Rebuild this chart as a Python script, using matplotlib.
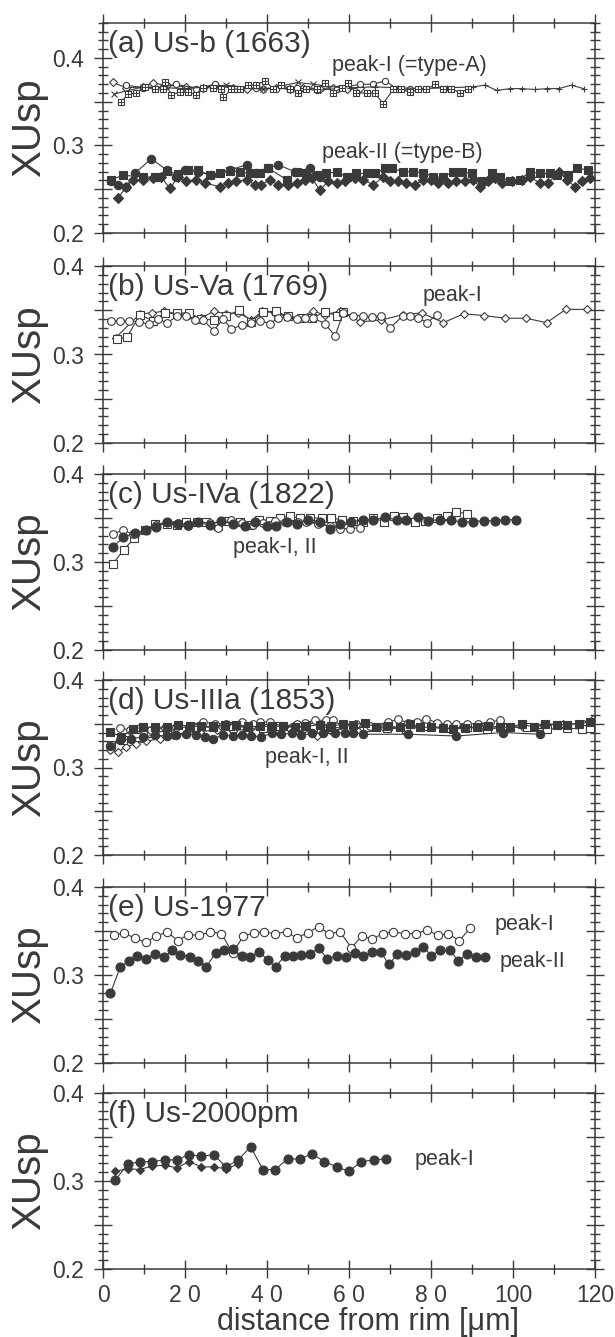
import matplotlib.pyplot as plt
from matplotlib.ticker import MultipleLocator, FuncFormatter, FixedLocator, FixedFormatter

plt.rcParams['font.family'] = ['Liberation Sans', 'DejaVu Sans']
INK = '#3a3a3a'

# ---------------- data (distance um, XUsp) ----------------
# (a) Us-b (1663)
A_SQ_X = [4.5, 6.1, 8.1, 10.2, 12.6, 14.6, 15.1, 16.7, 18.7, 20.7, 22.8, 24.4, 26.9, 28.9, 29.3,
          31.3, 33.4, 35.4, 37.4, 39.5, 41.5, 43.5, 45.6, 47.6, 49.6, 52.1, 54.1, 56.1, 58.2, 59.8,
          61.8, 64.3, 66.3, 68.3, 70.8, 72.8, 74.9, 76.9, 78.9, 81.0, 83.0, 85.0, 87.1, 89.1]
A_SQ_Y = [0.350, 0.359, 0.360, 0.367, 0.364, 0.365, 0.372, 0.358, 0.361, 0.361, 0.358, 0.366, 0.366, 0.364, 0.355,
          0.364, 0.365, 0.369, 0.369, 0.374, 0.365, 0.369, 0.365, 0.360, 0.364, 0.365, 0.371, 0.360, 0.366, 0.371,
          0.360, 0.360, 0.360, 0.348, 0.364, 0.364, 0.361, 0.364, 0.364, 0.370, 0.364, 0.365, 0.360, 0.365]
A_DM_X = [2.4, 5.7, 9.8, 12.2, 15.5, 20.3, 24.4, 27.3, 31.7, 35.0, 39.1, 42.3, 45.6, 48.8, 52.9, 56.1, 59.4, 62.7]
A_DM_Y = [0.372, 0.366, 0.367, 0.371, 0.369, 0.367, 0.366, 0.369, 0.366, 0.365, 0.364, 0.366, 0.364, 0.366,
          0.365, 0.366, 0.364, 0.366]
A_CI_X = [5.7, 9.8, 14.6, 17.9, 22.8, 27.3, 32.5, 37.4, 42.3, 47.2, 52.1, 57.0, 62.7, 65.9, 68.8, 71.6, 74.9]
A_CI_Y = [0.369, 0.366, 0.367, 0.370, 0.365, 0.370, 0.364, 0.366, 0.365, 0.366, 0.363, 0.365, 0.370, 0.370,
          0.374, 0.365, 0.364]
A_XX_X = [2.8, 9.8, 20.3, 30.1, 39.1, 47.6, 51.3, 58.0]
A_XX_Y = [0.359, 0.367, 0.365, 0.369, 0.364, 0.372, 0.370, 0.366]
A_PL_X = [60.2, 66.3, 72.0, 78.0, 84.0, 90.3, 93.2, 96.0, 99.3, 102.1, 105.4, 108.2, 111.1, 114.3, 117.2]
A_PL_Y = [0.366, 0.367, 0.366, 0.365, 0.366, 0.367, 0.369, 0.363, 0.365, 0.365, 0.364, 0.365, 0.365, 0.369, 0.365]
A_FS_X = [2.0, 4.9, 9.8, 12.6, 15.5, 18.3, 20.7, 23.2, 26.0, 28.5, 30.9, 33.4, 35.8, 38.2, 40.3, 44.8,
          47.2, 49.6, 52.1, 54.5, 57.0, 59.4, 61.8, 64.3, 66.3, 68.8, 70.4, 73.2, 75.7, 78.1, 80.6, 83.0,
          85.4, 87.5, 89.9, 92.4, 94.8, 96.8, 99.3, 101.7, 104.1, 106.6, 109.0, 110.7, 113.5, 115.5, 118.4]
A_FS_Y = [0.261, 0.266, 0.264, 0.264, 0.271, 0.267, 0.272, 0.272, 0.266, 0.268, 0.271, 0.270, 0.268, 0.268,
          0.274, 0.261, 0.270, 0.268, 0.266, 0.268, 0.270, 0.264, 0.268, 0.268, 0.268, 0.274, 0.274, 0.270,
          0.270, 0.269, 0.264, 0.264, 0.270, 0.270, 0.268, 0.259, 0.268, 0.264, 0.259, 0.261, 0.270, 0.268,
          0.268, 0.266, 0.266, 0.274, 0.272]
A_FD_X = [3.7, 5.7, 7.3, 9.8, 12.2, 14.2, 16.3, 18.3, 20.3, 22.8, 24.8, 28.5, 30.5, 32.5, 35.0, 37.0,
          38.6, 40.7, 42.7, 45.2, 47.2, 49.2, 50.9, 52.9, 54.9, 57.0, 59.0, 61.4, 63.5, 65.9, 68.3, 70.0,
          72.0, 74.0, 76.1, 78.1, 80.1, 81.8, 84.2, 86.2, 88.3, 90.3, 91.9, 94.0, 95.6, 97.2, 99.7, 102.1,
          104.1, 106.6, 108.6, 111.1, 113.1, 115.1, 116.8, 118.8]
A_FD_Y = [0.240, 0.253, 0.261, 0.261, 0.263, 0.264, 0.251, 0.264, 0.259, 0.261, 0.257, 0.253, 0.257, 0.259,
          0.261, 0.255, 0.255, 0.261, 0.255, 0.255, 0.257, 0.261, 0.263, 0.249, 0.259, 0.257, 0.259, 0.263,
          0.261, 0.255, 0.264, 0.259, 0.259, 0.257, 0.255, 0.261, 0.261, 0.257, 0.257, 0.259, 0.259, 0.261,
          0.253, 0.259, 0.263, 0.257, 0.259, 0.261, 0.264, 0.257, 0.257, 0.270, 0.261, 0.253, 0.259, 0.263]
A_FC_X = [2.0, 3.7, 5.7, 7.7, 11.8, 15.5, 17.9, 19.9, 23.2, 26.4, 30.9, 35.0, 37.4, 40.3, 42.7, 46.8, 50.4, 52.9]
A_FC_Y = [0.259, 0.255, 0.253, 0.268, 0.285, 0.272, 0.264, 0.272, 0.270, 0.266, 0.272, 0.278, 0.268, 0.274,
          0.278, 0.270, 0.274, 0.264]

# (b) Us-Va (1769)
B_CI_X = [2.0, 4.1, 6.3, 8.8, 11.2, 13.4, 15.6, 18.1, 20.3, 22.4, 24.4, 27.0, 29.3, 31.3, 33.8, 36.2, 38.4,
          40.7, 42.7, 44.8, 47.2, 49.2, 51.3, 54.1, 56.6, 58.6, 61.0, 63.3, 65.5, 67.7, 70.0, 73.2, 74.9,
          76.9, 79.1, 81.4]
B_CI_Y = [0.338, 0.338, 0.338, 0.337, 0.334, 0.340, 0.336, 0.343, 0.344, 0.339, 0.339, 0.327, 0.340, 0.329,
          0.333, 0.336, 0.338, 0.335, 0.341, 0.342, 0.340, 0.341, 0.341, 0.335, 0.321, 0.347, 0.344, 0.344,
          0.342, 0.344, 0.330, 0.344, 0.344, 0.341, 0.336, 0.345]
B_DM_X = [3.1, 9.0, 12.0, 14.8, 18.1, 21.0, 24.0, 27.0, 29.9, 33.0, 36.2, 38.9, 41.9, 44.9, 48.0, 51.1,
          54.1, 57.8, 62.8, 67.9, 73.1, 77.7, 83.0, 88.0, 92.9, 98.0, 103.1, 108.2, 112.9, 118.0]
B_DM_Y = [0.319, 0.346, 0.347, 0.349, 0.345, 0.345, 0.341, 0.349, 0.346, 0.347, 0.339, 0.349, 0.347, 0.343,
          0.341, 0.349, 0.345, 0.349, 0.337, 0.339, 0.345, 0.347, 0.336, 0.346, 0.344, 0.341, 0.341, 0.336,
          0.351, 0.351]
B_SQ_X = [3.3, 5.9, 9.0, 12.2, 15.1, 18.1, 21.0, 24.0, 27.0, 29.9, 33.2, 36.2, 39.1, 42.3, 45.0, 48.2,
          50.9, 54.1, 57.1, 58.6]
B_SQ_Y = [0.317, 0.320, 0.345, 0.338, 0.347, 0.347, 0.347, 0.340, 0.339, 0.343, 0.350, 0.337, 0.348, 0.349,
          0.343, 0.341, 0.341, 0.348, 0.344, 0.348]

# (c) Us-IVa (1822)
C_FC_X = [2.4, 4.9, 7.7, 10.4, 13.0, 15.6, 18.3, 20.7, 23.2, 26.0, 28.9, 31.7, 34.6, 37.0, 39.9, 42.3,
          44.8, 47.2, 50.0, 52.9, 55.3, 57.8, 60.6, 63.5, 65.9, 68.8, 71.6, 74.0, 76.9, 79.3, 82.2, 85.0,
          87.5, 90.3, 92.9, 95.6, 98.0, 100.7]
C_FC_Y = [0.317, 0.328, 0.333, 0.336, 0.340, 0.345, 0.343, 0.342, 0.345, 0.342, 0.347, 0.343, 0.341, 0.345,
          0.341, 0.341, 0.346, 0.343, 0.348, 0.346, 0.338, 0.343, 0.346, 0.348, 0.348, 0.351, 0.348, 0.348,
          0.351, 0.347, 0.348, 0.348, 0.345, 0.346, 0.347, 0.347, 0.348, 0.348]
C_CI_X = [2.4, 4.9, 7.3, 10.2, 13.0, 15.6, 18.3, 20.7, 23.2, 26.0, 28.1, 31.3, 33.8, 36.6, 39.1, 41.9,
          44.3, 47.6, 49.6, 52.5, 55.3, 57.8, 60.2, 62.7]
C_CI_Y = [0.332, 0.336, 0.332, 0.336, 0.342, 0.346, 0.344, 0.341, 0.346, 0.344, 0.339, 0.348, 0.344, 0.342,
          0.344, 0.347, 0.346, 0.346, 0.346, 0.343, 0.341, 0.338, 0.338, 0.339]
C_SQ_X = [2.4, 5.1, 7.6, 10.2, 12.8, 15.6, 18.1, 20.3, 22.9, 25.2, 28.1, 30.5, 33.4, 35.8, 38.0, 40.7,
          43.1, 45.6, 48.0, 50.4, 53.3, 55.7, 58.4, 61.0, 63.5, 65.9, 68.5, 71.0, 73.2, 76.1, 78.5, 81.4,
          83.8, 86.2, 88.7]
C_SQ_Y = [0.298, 0.314, 0.327, 0.336, 0.343, 0.343, 0.342, 0.345, 0.346, 0.346, 0.341, 0.347, 0.345, 0.342,
          0.348, 0.347, 0.350, 0.352, 0.350, 0.350, 0.350, 0.350, 0.348, 0.347, 0.346, 0.350, 0.346, 0.352,
          0.351, 0.346, 0.347, 0.350, 0.352, 0.357, 0.355]

# (d) Us-IIIa (1853)
D_FS_X = [1.6, 4.5, 7.3, 9.8, 12.6, 15.5, 18.3, 21.2, 24.0, 26.9, 29.7, 32.5, 35.4, 38.2, 41.1, 43.9,
          46.8, 49.6, 52.9, 55.7, 58.6, 61.0, 63.9, 66.7, 69.6, 72.4, 74.9, 77.3, 80.1, 83.0, 85.4, 88.3,
          91.1, 94.0, 96.8, 99.3, 102.1, 105.0, 107.8, 110.7, 113.1, 116.0, 118.8]
D_FS_Y = [0.341, 0.335, 0.344, 0.346, 0.346, 0.346, 0.349, 0.347, 0.347, 0.347, 0.349, 0.349, 0.347, 0.347,
          0.347, 0.347, 0.346, 0.347, 0.349, 0.347, 0.350, 0.349, 0.351, 0.346, 0.347, 0.346, 0.350, 0.346,
          0.346, 0.345, 0.344, 0.345, 0.346, 0.347, 0.346, 0.346, 0.350, 0.346, 0.350, 0.349, 0.349, 0.350,
          0.352]
D_FC_X = [1.6, 4.1, 6.9, 9.8, 12.6, 15.5, 17.9, 20.3, 22.8, 24.8, 26.9, 29.3, 31.7, 33.8, 36.2, 38.6,
          41.1, 43.5, 46.0, 48.4, 50.9, 53.7, 56.6, 59.0, 61.0, 63.5, 74.5, 86.2, 97.6, 106.6]
D_FC_Y = [0.325, 0.331, 0.333, 0.335, 0.337, 0.336, 0.337, 0.338, 0.337, 0.335, 0.333, 0.337, 0.336, 0.337,
          0.336, 0.335, 0.339, 0.338, 0.339, 0.337, 0.339, 0.339, 0.339, 0.340, 0.340, 0.338, 0.338, 0.336,
          0.340, 0.338]
D_CI_X = [4.1, 6.5, 9.0, 11.8, 15.1, 17.9, 21.2, 24.4, 27.3, 30.1, 33.8, 36.6, 38.2, 40.7, 43.9, 47.2,
          49.2, 51.7, 54.5, 56.1, 58.6, 61.8, 65.1, 69.6, 72.0, 74.5, 76.5, 78.9, 81.4, 83.8, 86.2, 88.7,
          91.5, 94.4, 96.8, 99.3]
D_CI_Y = [0.345, 0.343, 0.345, 0.343, 0.345, 0.346, 0.346, 0.352, 0.350, 0.350, 0.352, 0.350, 0.352, 0.352,
          0.347, 0.350, 0.351, 0.354, 0.354, 0.354, 0.347, 0.350, 0.347, 0.352, 0.355, 0.351, 0.352, 0.356,
          0.351, 0.350, 0.350, 0.350, 0.350, 0.352, 0.354, 0.346]
D_DM_X = [1.6, 3.7, 5.7, 8.1, 10.6, 13.8, 17.1, 20.3, 23.6, 27.7, 31.7, 35.8, 39.1, 42.3, 45.6, 48.8,
          52.1, 55.3, 59.4, 63.5, 68.3, 73.2, 78.1, 83.0, 87.9, 92.8, 97.6, 102.5, 107.4, 112.3, 117.2, 119.6]
D_DM_Y = [0.320, 0.318, 0.324, 0.327, 0.330, 0.333, 0.337, 0.339, 0.341, 0.343, 0.342, 0.344, 0.344, 0.343,
          0.344, 0.343, 0.336, 0.343, 0.344, 0.345, 0.346, 0.346, 0.346, 0.345, 0.346, 0.346, 0.347, 0.346,
          0.349, 0.350, 0.350, 0.356]
D_SQ_X = [2.0, 4.9, 8.1, 11.8, 15.5, 19.1, 22.8, 26.9, 30.9, 35.0, 39.1, 43.1, 47.2, 51.3, 55.3, 59.4,
          64.3, 69.2, 74.0, 78.9, 83.8, 88.7, 93.6, 98.5, 103.3, 108.2, 113.1, 116.8, 118.8]
D_SQ_Y = [0.326, 0.331, 0.335, 0.339, 0.342, 0.344, 0.346, 0.346, 0.347, 0.346, 0.345, 0.347, 0.347, 0.346,
          0.346, 0.345, 0.346, 0.345, 0.344, 0.347, 0.345, 0.346, 0.344, 0.346, 0.346, 0.344, 0.345, 0.344,
          0.345]

# (e) Us-1977
E_P1_X = [2.6, 5.0, 7.7, 10.4, 12.9, 15.6, 18.3, 20.7, 23.4, 26.2, 28.9, 31.6, 34.2, 36.9, 39.2, 41.9,
          44.8, 47.2, 49.9, 52.6, 55.1, 57.8, 60.6, 63.1, 65.7, 68.3, 70.8, 73.6, 76.3, 79.1, 81.8, 84.2,
          86.9, 89.5]
E_P1_Y = [0.345, 0.348, 0.342, 0.337, 0.344, 0.349, 0.339, 0.346, 0.345, 0.349, 0.347, 0.325, 0.344, 0.348,
          0.349, 0.347, 0.349, 0.342, 0.348, 0.355, 0.347, 0.349, 0.331, 0.344, 0.341, 0.347, 0.349, 0.347,
          0.347, 0.351, 0.345, 0.347, 0.339, 0.353]
E_P2_X = [1.8, 4.2, 6.3, 8.3, 10.4, 12.6, 14.8, 16.9, 18.9, 21.2, 23.2, 25.1, 27.5, 29.5, 31.6, 33.8,
          35.8, 38.1, 40.3, 42.1, 44.3, 46.4, 48.4, 50.6, 52.6, 54.7, 57.0, 59.2, 61.4, 63.5, 65.5, 67.7,
          69.8, 71.8, 74.0, 76.1, 78.1, 80.1, 82.2, 84.6, 86.7, 88.7, 91.0, 93.2]
E_P2_Y = [0.279, 0.309, 0.316, 0.322, 0.318, 0.324, 0.320, 0.328, 0.323, 0.321, 0.316, 0.309, 0.325, 0.328,
          0.329, 0.322, 0.320, 0.326, 0.317, 0.309, 0.322, 0.322, 0.323, 0.324, 0.331, 0.318, 0.322, 0.320,
          0.325, 0.322, 0.326, 0.326, 0.312, 0.324, 0.323, 0.326, 0.332, 0.322, 0.328, 0.328, 0.316, 0.324,
          0.320, 0.320]

# (f) Us-2000pm
F_CI_X = [3, 6, 9, 12, 15, 18, 21, 24, 27, 30, 33, 36, 39, 42, 45, 48, 51, 54, 57, 60, 63, 66, 69]
F_CI_Y = [0.301, 0.319, 0.322, 0.322, 0.324, 0.324, 0.330, 0.328, 0.330, 0.316, 0.324, 0.339, 0.313, 0.313,
          0.325, 0.325, 0.331, 0.322, 0.316, 0.311, 0.322, 0.324, 0.325]
F_DM_X = [3, 6, 9, 12, 15, 18, 21, 24, 27, 30, 33]
F_DM_Y = [0.311, 0.314, 0.313, 0.317, 0.318, 0.315, 0.322, 0.316, 0.316, 0.314, 0.319]

TITLES = ['(a) Us-b (1663)', '(b) Us-Va (1769)', '(c) Us-IVa (1822)',
          '(d) Us-IIIa (1853)', '(e) Us-1977', '(f) Us-2000pm']
XTICKS = [0, 20, 40, 60, 80, 100, 120]
XTICK_LABELS = ['0', '2 0', '4 0', '6 0', '8 0', '100', '120']

# axes boxes in figure pixels (top, bottom) for 615 x 1337 canvas
W, H = 615, 1337
BOXES = [(23, 233), (266, 443), (474, 650), (680, 855), (887, 1063), (1093, 1269)]
YTOPS = [0.44, 0.4, 0.4, 0.4, 0.4, 0.4]


def series(ax, x, y, marker, filled=False, ms=5, lw=0.8, z=2):
    ax.plot(x, y, '-', color=INK, lw=lw, marker=marker, ms=ms,
            mfc=INK if filled else 'white', mec=INK, mew=0.8, zorder=z)


def ylab(v, pos):
    return f'{v:.1f}' if abs(v * 10 - round(v * 10)) < 1e-6 else ''


fig = plt.figure(figsize=(W / 100, H / 100), dpi=100)
axes = []
for (top, bot), ytop in zip(BOXES, YTOPS):
    ax = fig.add_axes([103 / W, 1 - bot / H, 492 / W, (bot - top) / H])
    ax.set_xlim(0, 120)
    ax.set_ylim(0.2, ytop)
    ax.xaxis.set_major_locator(FixedLocator(XTICKS))
    ax.xaxis.set_minor_locator(MultipleLocator(10))
    ax.yaxis.set_major_locator(MultipleLocator(0.05))
    ax.yaxis.set_minor_locator(MultipleLocator(0.01))
    ax.yaxis.set_major_formatter(FuncFormatter(ylab))
    ax.tick_params(which='both', direction='inout', top=True, right=True, color=INK,
                   labelcolor=INK, labelsize=16.5, width=1.0)
    ax.tick_params(which='major', length=13)
    ax.tick_params(which='minor', length=7)
    ax.tick_params(axis='y', pad=7)
    ax.tick_params(axis='x', pad=4, labelbottom=False)
    for s in ax.spines.values():
        s.set_color(INK)
        s.set_linewidth(1.1)
    ax.set_ylabel('XUsp', fontsize=29, color=INK)
    ax.yaxis.set_label_coords(-0.112, 0.5)
    axes.append(ax)

for ax, t in zip(axes, TITLES):
    ax.annotate(t, xy=(0, 1), xycoords='axes fraction', xytext=(5, -21),
                textcoords='offset pixels', va='center', ha='left', fontsize=21.5, color=INK)

# (a)
ax = axes[0]
series(ax, A_DM_X, A_DM_Y, 'D', ms=4)
series(ax, A_CI_X, A_CI_Y, 'o', ms=4.5)
series(ax, A_XX_X, A_XX_Y, 'x', ms=4.5)
series(ax, A_PL_X, A_PL_Y, '+', ms=5)
series(ax, A_SQ_X, A_SQ_Y, 's', ms=5, z=3)
ax.plot(A_SQ_X, A_SQ_Y, '+', color=INK, ms=5, mew=0.7, zorder=3)
series(ax, A_FC_X, A_FC_Y, 'o', filled=True, ms=6)
series(ax, A_FS_X, A_FS_Y, 's', filled=True, ms=6)
series(ax, A_FD_X, A_FD_Y, 'D', filled=True, ms=5.5)
ax.text(55.9, 0.391, 'peak-I (=type-A)', fontsize=15.5, color=INK, va='center')
ax.text(53.4, 0.292, 'peak-II (=type-B)', fontsize=15.5, color=INK, va='center')

# (b)
ax = axes[1]
series(ax, B_DM_X, B_DM_Y, 'D', ms=4.5)
series(ax, B_SQ_X, B_SQ_Y, 's', ms=5.5)
series(ax, B_CI_X, B_CI_Y, 'o', ms=5.5)
ax.text(78, 0.367, 'peak-I', fontsize=15.5, color=INK, va='center')

# (c)
ax = axes[2]
series(ax, C_SQ_X, C_SQ_Y, 's', ms=5.5)
series(ax, C_CI_X, C_CI_Y, 'o', ms=5.5)
series(ax, C_FC_X, C_FC_Y, 'o', filled=True, ms=6.5)
ax.text(31.7, 0.317, 'peak-I, II', fontsize=15.5, color=INK, va='center')

# (d)
ax = axes[3]
series(ax, D_DM_X, D_DM_Y, 'D', ms=4.5)
series(ax, D_SQ_X, D_SQ_Y, 's', ms=5.5)
series(ax, D_CI_X, D_CI_Y, 'o', ms=5.5)
series(ax, D_FC_X, D_FC_Y, 'o', filled=True, ms=6)
series(ax, D_FS_X, D_FS_Y, 's', filled=True, ms=6)
ax.text(39.5, 0.312, 'peak-I, II', fontsize=15.5, color=INK, va='center')

# (e)
ax = axes[4]
series(ax, E_P1_X, E_P1_Y, 'o', ms=6)
series(ax, E_P2_X, E_P2_Y, 'o', filled=True, ms=6.5)
ax.text(95.6, 0.357, 'peak-I', fontsize=15.5, color=INK, va='center')
ax.text(96.8, 0.315, 'peak-II', fontsize=15.5, color=INK, va='center')

# (f)
ax = axes[5]
series(ax, F_DM_X, F_DM_Y, 'D', filled=True, ms=4.5)
series(ax, F_CI_X, F_CI_Y, 'o', filled=True, ms=6.5)
ax.text(76.1, 0.325, 'peak-I', fontsize=15.5, color=INK, va='center')
ax.tick_params(axis='x', labelbottom=True)
ax.xaxis.set_major_formatter(FixedFormatter(XTICK_LABELS))
ax.set_xlabel('distance from rim [μm]', fontsize=22, color=INK)
ax.xaxis.set_label_coords(0.539, -0.215)

fig.savefig('out.png', dpi=100)
